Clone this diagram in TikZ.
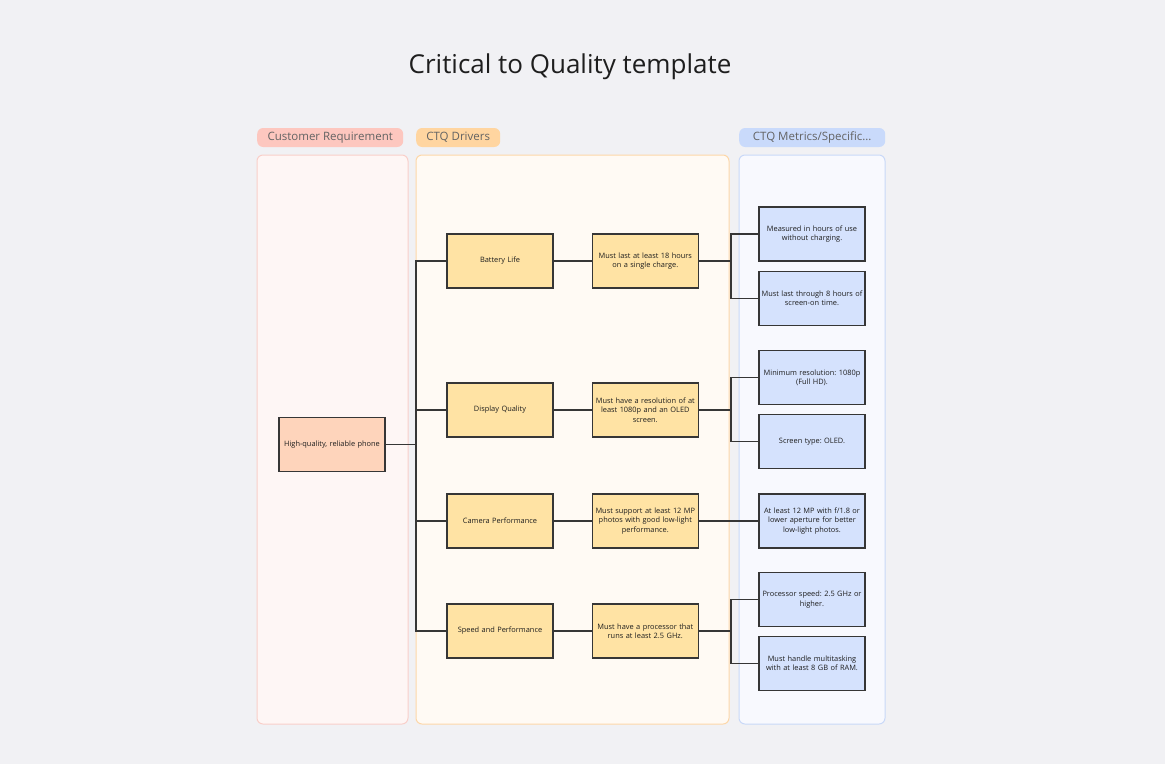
\documentclass[tikz,border=0pt]{standalone}
\usepackage{fontspec}
\setmainfont{Open Sans}
\usetikzlibrary{positioning}
\frenchspacing

\definecolor{bgcol}{HTML}{F1F1F4}
\definecolor{reqlane}{HTML}{FEF6F5}
\definecolor{reqedge}{HTML}{F9CFC9}
\definecolor{reqtag}{HTML}{FDC7BF}
\definecolor{reqfill}{HTML}{FED4BB}
\definecolor{drvlane}{HTML}{FFFAF4}
\definecolor{drvedge}{HTML}{FDD7A8}
\definecolor{drvtag}{HTML}{FFD5A0}
\definecolor{drvfill}{HTML}{FFE3A4}
\definecolor{metlane}{HTML}{F8F9FE}
\definecolor{metedge}{HTML}{C9D9F8}
\definecolor{mettag}{HTML}{C9DAFB}
\definecolor{metfill}{HTML}{D5E2FD}
\definecolor{boxline}{HTML}{363636}
\definecolor{tagtxt}{HTML}{636363}
\definecolor{txt}{HTML}{1E1E1E}

\tikzset{
  box/.style={draw=boxline, line width=1.3pt, minimum width=106pt, minimum height=54pt,
    text width=106pt, align=center, inner sep=0pt, text=txt,
    font=\fontsize{7.4}{9.4}\selectfont},
  reqbox/.style={box, fill=reqfill},
  drvbox/.style={box, fill=drvfill},
  metbox/.style={box, fill=metfill},
  tag/.style={rounded corners=6pt, minimum height=19pt, inner sep=0pt, anchor=west,
    text=tagtxt, font=\fontsize{11.5}{13}\selectfont},
  link/.style={draw=boxline, line width=1.1pt},
}

\begin{document}
\begin{tikzpicture}[x=1pt, y=-1pt]

  \fill[bgcol] (0,0) rectangle (1165,764);
  \useasboundingbox (0,0) rectangle (1165,764);

  \node[font=\fontsize{26}{30}\selectfont, text=txt] (title) at (570,67) {Critical to Quality template};

  % lanes
  \filldraw[fill=reqlane, draw=reqedge, line width=1pt, rounded corners=6pt] (257,155) rectangle (408,724);
  \filldraw[fill=drvlane, draw=drvedge, line width=1pt, rounded corners=6pt] (416,155) rectangle (729,724);
  \filldraw[fill=metlane, draw=metedge, line width=1pt, rounded corners=6pt] (739,155) rectangle (885,724);

  \node[tag, fill=reqtag, minimum width=146pt] (tagreq) at (257,137.5) {Customer Requirement};
  \node[tag, fill=drvtag, minimum width=84pt] (tagdrv) at (416,137.5) {CTQ Drivers};
  \node[tag, fill=mettag, minimum width=146pt] (tagmet) at (739,137.5) {CTQ Metrics/Specific...};

  % requirement and drivers
  \node[reqbox] (req) at (332,444.5) {High-quality, reliable phone};

  \node[drvbox] (bat) at (500,261) {Battery Life};
  \node[drvbox] (disp) at (500,410) {Display Quality};
  \node[drvbox] (cam) at (500,521) {Camera Performance};
  \node[drvbox] (spd) at (500,631) {Speed and Performance};

  \node[drvbox, right=38pt of bat] (sbat) {Must last at least 18 hours\\ on a single charge.};
  \node[drvbox, right=38pt of disp] (sdisp) {Must have a resolution of at\\ least 1080p and an OLED\\ screen.};
  \node[drvbox, right=38pt of cam] (scam) {Must support at least 12 MP\\ photos with good low-light\\ performance.};
  \node[drvbox, right=38pt of spd] (sspd) {Must have a processor that\\ runs at least 2.5 GHz.};

  % metrics
  \node[metbox] (m1) at (812,234) {Measured in hours of use\\ without charging.};
  \node[metbox] (m2) at (812,298.5) {Must last through 8 hours of\\ screen-on time.};
  \node[metbox] (m3) at (812,377.5) {Minimum resolution: 1080p\\ (Full HD).};
  \node[metbox] (m4) at (812,441.5) {Screen type: OLED.};
  \node[metbox] (m5) at (812,521) {At least 12 MP with f/1.8 or\\ lower aperture for better\\ low-light photos.};
  \node[metbox] (m6) at (812,599.5) {Processor speed: 2.5 GHz or\\ higher.};
  \node[metbox] (m7) at (812,663.5) {Must handle multitasking\\ with at least 8 GB of RAM.};

  % connectors
  \coordinate (trunk) at (416,444.5);
  \draw[link] (req.east) -- (trunk);
  \foreach \d in {bat,disp,cam,spd}
    \draw[link] (trunk) |- (\d.west);

  \draw[link] (bat) -- (sbat);
  \draw[link] (disp) -- (sdisp);
  \draw[link] (cam) -- (scam);
  \draw[link] (spd) -- (sspd);

  \draw[link] (sbat.east) -- ++(32,0) |- (m1.west);
  \draw[link] (sbat.east) -- ++(32,0) |- (m2.west);
  \draw[link] (sdisp.east) -- ++(32,0) |- (m3.west);
  \draw[link] (sdisp.east) -- ++(32,0) |- (m4.west);
  \draw[link] (scam) -- (m5);
  \draw[link] (sspd.east) -- ++(32,0) |- (m6.west);
  \draw[link] (sspd.east) -- ++(32,0) |- (m7.west);

\end{tikzpicture}
\end{document}
